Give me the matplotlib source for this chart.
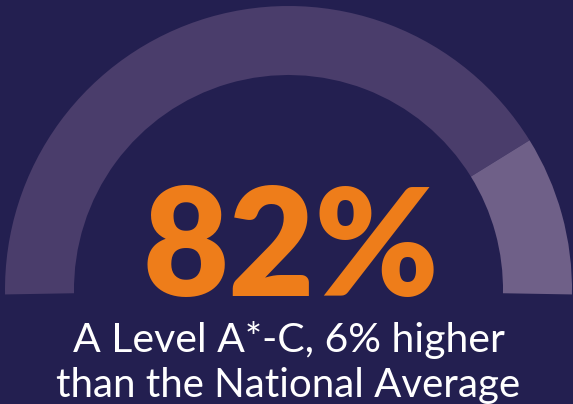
import matplotlib.pyplot as plt
from matplotlib.patches import Wedge

# ── Data ──────────────────────────────────────────────────────────────────────
segments = ["A*-C", "rest"]
values = [82, 18]
headline = "82%"
caption = ["A Level A*-C, 6% higher", "than the National Average"]

BG = "#231f50"
ARC_COLORS = ["#4a3d6b", "#6f6088"]
ORANGE = "#ee7d1a"

W, H = 573, 404

fig = plt.figure(figsize=(W / 100, H / 100), dpi=100, facecolor=BG)
ax = fig.add_axes([0, 0, 1, 1])
ax.set_xlim(0, W)
ax.set_ylim(0, H)
ax.set_aspect("equal")
ax.axis("off")

# ── Half-donut gauge: values run from left (180°) clockwise ──────────────────
cx, cy = 288.5, H - 289.5
r_out, ring = 283.5, 69
start = 181.0
total = sum(values)
for val, col in zip(values, ARC_COLORS):
    sweep = 182.0 * val / total
    ax.add_patch(Wedge((cx, cy), r_out, start - sweep, start, width=ring,
                       facecolor=col, edgecolor="none"))
    start -= sweep

# ── Text ─────────────────────────────────────────────────────────────────────
ax.text(291, H - 296, headline, ha="center", va="baseline", color=ORANGE,
        fontsize=107, fontweight="heavy", family=["Lato", "DejaVu Sans"])
ax.text(cx, H - 352, caption[0], ha="center", va="baseline", color="white",
        fontsize=29.5, family=["Lato", "DejaVu Sans"])
ax.text(cx, H - 397, caption[1], ha="center", va="baseline", color="white",
        fontsize=29, family=["Lato", "DejaVu Sans"])

fig.savefig("out.png", dpi=100, facecolor=BG)
